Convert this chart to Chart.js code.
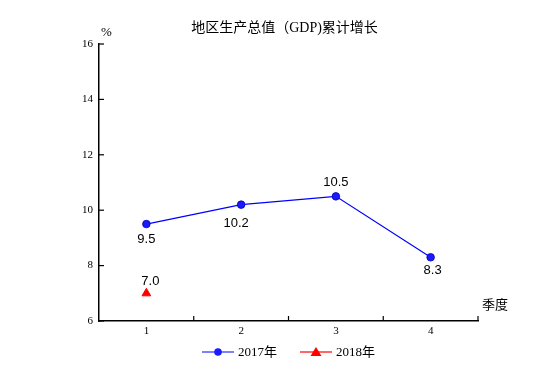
<!DOCTYPE html>
<html>
<head>
<meta charset="utf-8">
<script src="https://cdn.jsdelivr.net/npm/chart.js@4/dist/chart.umd.min.js"></script>
<style>
  html, body { margin: 0; padding: 0; background: #fff; }
  #wrap { width: 555px; height: 385px; }
</style>
</head>
<body>
<div id="wrap"><canvas id="gdpChart" width="555" height="385"></canvas></div>
<script>
// data
const quarters = ["1", "2", "3", "4"];
const growth2017 = [9.5, 10.2, 10.5, 8.3];
const growth2018 = [7.0, null, null, null];
const seriesNames = ["2017年", "2018年"];
const chartTitle = "地区生产总值（GDP)累计增长";

const serif = "'Liberation Serif', 'Noto Sans CJK SC', serif";

function drawMarker(g, shape, x, y) {
  g.beginPath();
  if (shape === "circle") {
    g.arc(x, y, 3.8, 0, Math.PI * 2);
  } else {
    g.moveTo(x, y - 5); g.lineTo(x + 5.5, y + 4); g.lineTo(x - 5.5, y + 4); g.closePath();
  }
  g.fill();
}

// title, legend, inward tick marks, axis titles and value labels
const extras = {
  id: "extras",
  afterDatasetsDraw(chart) {
    const ctx = chart.ctx;
    const a = chart.chartArea;
    const xs = chart.scales.x, ys = chart.scales.y;
    const mid = (a.left + a.right) / 2;
    ctx.save();

    // tick marks pointing into the plot
    ctx.strokeStyle = "#000";
    ctx.lineWidth = 1.2;
    ys.ticks.forEach(t => {
      const y = ys.getPixelForValue(t.value);
      ctx.beginPath(); ctx.moveTo(a.left, y); ctx.lineTo(a.left + 5, y); ctx.stroke();
    });
    const step = xs.getPixelForValue(1) - xs.getPixelForValue(0);
    for (let i = 0; i < quarters.length; i++) {
      const x = xs.getPixelForValue(i) + step / 2;
      ctx.beginPath(); ctx.moveTo(x, a.bottom); ctx.lineTo(x, a.bottom - 5); ctx.stroke();
    }

    ctx.fillStyle = "#000";
    ctx.textBaseline = "middle";

    // title
    ctx.font = "14px " + serif;
    ctx.textAlign = "center";
    ctx.fillText(chartTitle, mid - 4, 28);

    // axis titles
    ctx.font = "13px " + serif;
    ctx.textAlign = "left";
    ctx.fillText("%", a.left + 2, a.top - 11);
    ctx.fillText("季度", a.right + 4, a.bottom - 15);

    // legend
    const shapes = ["circle", "triangle"];
    const iconW = 32, gap = 4, itemGap = 23;
    const widths = chart.data.datasets.map(ds => iconW + gap + ctx.measureText(ds.label).width);
    const total = widths.reduce((s, w) => s + w, 0) + itemGap * (widths.length - 1);
    let lx = mid - total / 2;
    const ly = 352;
    chart.data.datasets.forEach((ds, i) => {
      ctx.strokeStyle = ds.borderColor;
      ctx.fillStyle = ds.pointBackgroundColor;
      ctx.lineWidth = 1.2;
      ctx.beginPath(); ctx.moveTo(lx, ly); ctx.lineTo(lx + iconW, ly); ctx.stroke();
      drawMarker(ctx, shapes[i], lx + iconW / 2, ly);
      ctx.fillStyle = "#000";
      ctx.fillText(ds.label, lx + iconW + gap, ly + 1);
      lx += widths[i] + itemGap;
    });

    // value labels
    ctx.font = "13px 'Liberation Sans', Arial, sans-serif";
    ctx.textAlign = "center";
    const offsets = [
      [[0, 15], [-5, 19], [0, -14], [2, 13]],
      [[4, -12]]
    ];
    chart.data.datasets.forEach((ds, di) => {
      chart.getDatasetMeta(di).data.forEach((pt, i) => {
        const v = ds.data[i];
        if (v == null) return;
        const [ox, oy] = offsets[di][i];
        ctx.fillText(v.toFixed(1), pt.x + ox, pt.y + oy);
      });
    });
    ctx.restore();
  }
};

new Chart(document.getElementById("gdpChart"), {
  type: "line",
  data: {
    labels: quarters,
    datasets: [
      {
        label: seriesNames[0],
        data: growth2017,
        borderColor: "#0000ff",
        borderWidth: 1.2,
        backgroundColor: "#1a1aff",
        pointBackgroundColor: "#1a1aff",
        pointBorderColor: "#0000b0",
        pointBorderWidth: 0.8,
        pointRadius: 3.8,
        pointStyle: "circle",
        tension: 0
      },
      {
        label: seriesNames[1],
        data: growth2018,
        borderColor: "#ff0000",
        backgroundColor: "#ff0000",
        pointBackgroundColor: "#ff0000",
        pointBorderColor: "#ff0000",
        pointStyle: "triangle",
        pointRadius: 5,
        showLine: false
      }
    ]
  },
  options: {
    responsive: false,
    animation: false,
    layout: { padding: { left: 0, right: 77, top: 44, bottom: 40 } },
    plugins: {
      title: { display: false },
      legend: { display: false },
      tooltip: { enabled: false }
    },
    scales: {
      x: {
        offset: true,
        grid: { display: false, drawTicks: false },
        border: { display: true, color: "#000", width: 1.5 },
        ticks: { color: "#000", font: { family: serif, size: 11 }, padding: 4 },
        afterFit: s => { s.height = 24; }
      },
      y: {
        min: 6,
        max: 16,
        grid: { display: false, drawTicks: false },
        border: { display: true, color: "#000", width: 1.5 },
        ticks: { stepSize: 2, color: "#000", font: { family: serif, size: 11 }, padding: 6 },
        afterFit: s => { s.width = 99; }
      }
    }
  },
  plugins: [extras]
});
</script>
</body>
</html>
